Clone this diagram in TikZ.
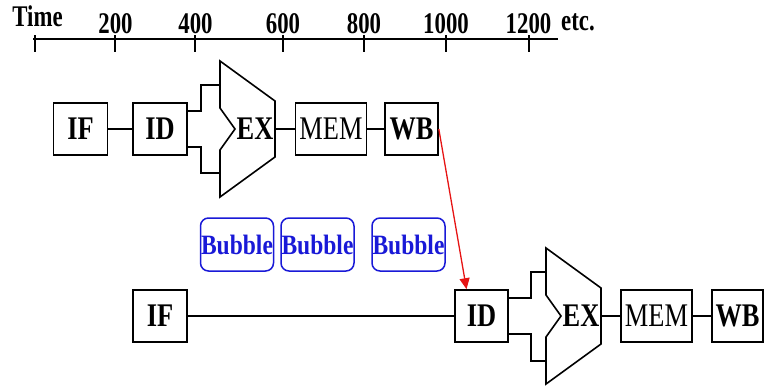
\documentclass[tikz,border=0pt]{standalone}
\usepackage{fontspec}
\setmainfont{Liberation Serif}
\newfontfamily\boxfont[FakeStretch=0.8]{Liberation Serif}
\newfontfamily\timefont[FakeStretch=0.76]{Liberation Serif}
\newfontfamily\bubfont[FakeStretch=0.84]{Liberation Serif}
\usetikzlibrary{arrows.meta,calc}
\definecolor{bubblue}{RGB}{25,25,215}
\definecolor{arrred}{RGB}{230,20,20}
\begin{document}
\begin{tikzpicture}[x=1pt,y=-1pt,
  stage/.style={draw,line width=1.6pt,minimum width=54pt,minimum height=52pt,inner sep=0pt,
    font=\boxfont\bfseries\fontsize{33pt}{33pt}\selectfont},
  stagemem/.style={stage,minimum width=71pt,font=\boxfont\fontsize{33pt}{33pt}\selectfont},
  extext/.style={inner sep=0pt,font=\boxfont\bfseries\fontsize{33pt}{33pt}\selectfont},
  wire/.style={line width=1.6pt},
  bubble/.style={draw=bubblue,text=bubblue,line width=1.5pt,rounded corners=8pt,
    minimum width=73pt,minimum height=53pt,inner sep=0pt,
    font=\bubfont\bfseries\fontsize{28pt}{28pt}\selectfont},
  tlabel/.style={inner sep=0pt,anchor=base,font=\timefont\bfseries\fontsize{30pt}{30pt}\selectfont},
]
\useasboundingbox (0,0) rectangle (765,388);

% time axis
\draw[line width=1.6pt] (33,39) -- (558,39);
\foreach \x in {35,115,195,283,364,446,529}
  \draw[line width=1.4pt] (\x,35) -- (\x,52);
\node[tlabel] (tTime) at (37.5,27) {Time};
\node[tlabel] (t200) at (115.5,33) {200};
\node[tlabel] (t400) at (195.5,33) {400};
\node[tlabel] (t600) at (283,33) {600};
\node[tlabel] (t800) at (364,33) {800};
\node[tlabel] (t1000) at (446,33) {1000};
\node[tlabel] (t1200) at (528.5,33) {1200};
\node[tlabel] (tetc) at (578,30) {etc.};

% top pipeline
\node[stage] (IF1) at (80.5,129) {IF};
\node[stage] (ID1) at (160,129) {ID};
\draw[wire] (220,61) -- (275,101) -- (275,157) -- (220,197) -- (220,150) -- (235,129) -- (220,108) -- cycle;
\node[extext] (EX1) at (255,129) {EX};
\coordinate (EX1in1) at (220,85);
\coordinate (EX1in2) at (220,173);
\coordinate (EX1out) at (275,129);
\node[stagemem] (MEM1) at (331,129) {MEM};
\node[stage,minimum width=53pt] (WB1) at (411.5,129) {WB};
\draw[wire] (IF1) -- (ID1);
\draw[wire] ([yshift=18pt]ID1.east) -- ++(13,0) |- (EX1in1);
\draw[wire] ([yshift=-18pt]ID1.east) -- ++(13,0) |- (EX1in2);
\draw[wire] (EX1out) -- (MEM1);
\draw[wire] (MEM1) -- (WB1);

% bubbles
\node[bubble] (B1) at (237,244.5) {Bubble};
\node[bubble] (B2) at (317.5,244.5) {Bubble};
\node[bubble] (B3) at (408.5,244.5) {Bubble};

% bottom pipeline
\node[stage] (IF2) at (160,316) {IF};
\node[stage,minimum width=53pt] (ID2) at (481.5,316) {ID};
\draw[wire] (546,248) -- (601,288) -- (601,344) -- (546,384) -- (546,337) -- (561,316) -- (546,295) -- cycle;
\node[extext] (EX2) at (581,316) {EX};
\coordinate (EX2in1) at (546,272);
\coordinate (EX2in2) at (546,361);
\coordinate (EX2out) at (601,316);
\node[stagemem] (MEM2) at (656.5,316) {MEM};
\node[stage,minimum width=51pt] (WB2) at (737.5,316) {WB};
\draw[wire] (IF2) -- (ID2);
\draw[wire] ([yshift=18pt]ID2.east) -- ++(22,0) |- (EX2in1);
\draw[wire] ([yshift=-18pt]ID2.east) -- ++(22,0) |- (EX2in2);
\draw[wire] (EX2out) -- (MEM2);
\draw[wire] (MEM2) -- (WB2);

% dependency arrow
\draw[arrred,line width=1.3pt,-{Triangle[length=11pt,width=10pt]}] (WB1.east) -- ([xshift=-15pt]ID2.north);
\end{tikzpicture}
\end{document}
